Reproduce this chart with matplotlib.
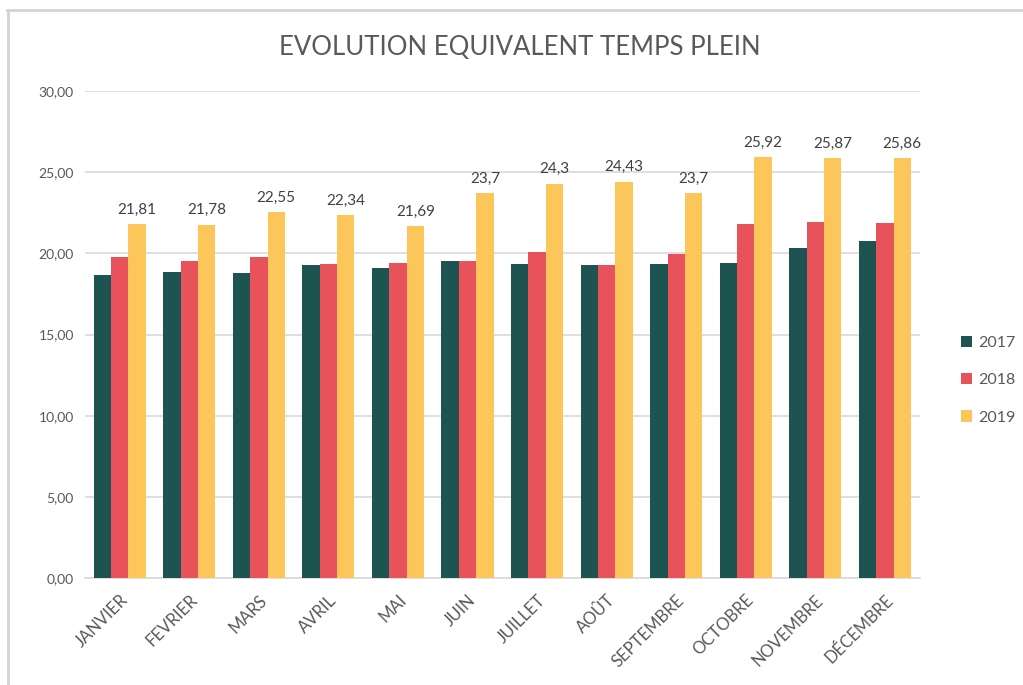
import numpy as np
import matplotlib.pyplot as plt
from matplotlib.lines import Line2D

plt.rcParams['font.family'] = ['Lato', 'DejaVu Sans']

mois = ['JANVIER', 'FEVRIER', 'MARS', 'AVRIL', 'MAI', 'JUIN', 'JUILLET',
        'AOÛT', 'SEPTEMBRE', 'OCTOBRE', 'NOVEMBRE', 'DÉCEMBRE']
v2017 = [18.67, 18.87, 18.81, 19.29, 19.12, 19.53, 19.33, 19.29, 19.33, 19.43, 20.35, 20.78]
v2018 = [19.80, 19.53, 19.80, 19.35, 19.39, 19.53, 20.10, 19.31, 19.96, 21.79, 21.91, 21.85]
v2019 = [21.81, 21.78, 22.55, 22.34, 21.69, 23.7, 24.3, 24.43, 23.7, 25.92, 25.87, 25.86]
labels_2019 = ['21,81', '21,78', '22,55', '22,34', '21,69', '23,7', '24,3',
               '24,43', '23,7', '25,92', '25,87', '25,86']
annees = ['2017', '2018', '2019']
couleurs = ['#1d5452', '#e8525b', '#fcc65b']
gris = '#595959'

fig = plt.figure(figsize=(10.23, 6.85), dpi=100)
ax = fig.add_axes([0.083, 0.156, 0.816, 0.711])

x = np.arange(len(mois))
w = 0.25
series = [v2017, v2018, v2019]
for i, (vals, nom, c) in enumerate(zip(series, annees, couleurs)):
    bars = ax.bar(x + (i - 1) * w, vals, w, color=c, label=nom, zorder=3)
    if nom == '2019':
        for b, lab in zip(bars, labels_2019):
            ax.text(b.get_x() + b.get_width() / 2, b.get_height() + 0.45, lab,
                    ha='center', va='bottom', fontsize=11, color='#404040')

ax.set_xlim(-0.5, len(mois) - 0.5)
ax.set_ylim(0, 30)
ax.set_yticks(np.arange(0, 31, 5))
ax.set_yticklabels([f'{v:.2f}'.replace('.', ',') for v in np.arange(0, 31, 5)],
                   fontsize=10, color=gris)
ax.set_xticks(x)
ax.set_xticklabels(mois, rotation=45, ha='right', rotation_mode='anchor',
                   fontsize=12, color=gris)
ax.tick_params(axis='y', length=0, pad=8)
ax.tick_params(axis='x', length=0, pad=10)
ax.grid(axis='y', color='#d9d9d9', linewidth=1.2, zorder=0)
for s in ['top', 'right', 'left']:
    ax.spines[s].set_visible(False)
ax.spines['bottom'].set_color('#d9d9d9')
ax.spines['bottom'].set_linewidth(1.2)

fig.text(0.508, 0.931, 'EVOLUTION EQUIVALENT TEMPS PLEIN', ha='center', va='center',
         fontsize=18.5, color=gris)

fig.legend(loc='center left', bbox_to_anchor=(0.925, 0.445), frameon=False,
           fontsize=11.5, handlelength=0.7, handleheight=0.7, labelspacing=1.45,
           handletextpad=0.4, labelcolor=gris)

# bordure du cadre (haut et gauche seulement)
fig.add_artist(Line2D([0.007, 1.0], [0.985, 0.985], transform=fig.transFigure,
                      color='#d4d4d4', linewidth=2))
fig.add_artist(Line2D([0.008, 0.008], [0.0, 0.985], transform=fig.transFigure,
                      color='#d4d4d4', linewidth=2))

fig.savefig('out.png', dpi=100)
